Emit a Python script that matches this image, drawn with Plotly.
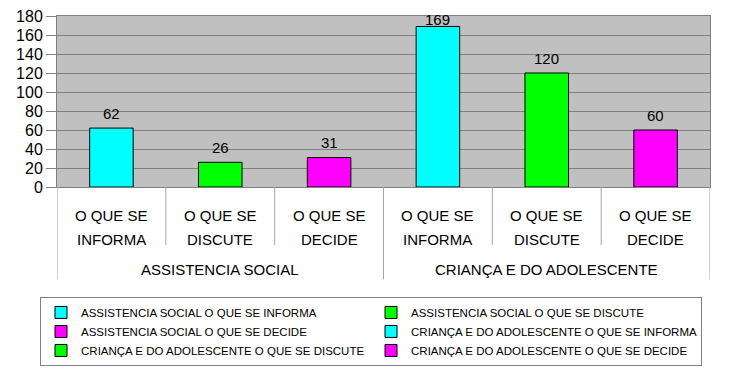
import plotly.graph_objects as go

groups = ["ASSISTENCIA SOCIAL", "CRIANÇA E DO ADOLESCENTE"]
subcats_line1 = ["O QUE SE", "O QUE SE", "O QUE SE", "O QUE SE", "O QUE SE", "O QUE SE"]
subcats_line2 = ["INFORMA", "DISCUTE", "DECIDE", "INFORMA", "DISCUTE", "DECIDE"]
series_names = [
    "ASSISTENCIA SOCIAL O QUE SE INFORMA",
    "ASSISTENCIA SOCIAL O QUE SE DISCUTE",
    "ASSISTENCIA SOCIAL O QUE SE DECIDE",
    "CRIANÇA E DO ADOLESCENTE O QUE SE INFORMA",
    "CRIANÇA E DO ADOLESCENTE O QUE SE DISCUTE",
    "CRIANÇA E DO ADOLESCENTE O QUE SE DECIDE",
]
values = [62, 26, 31, 169, 120, 60]
colors = ["#00FFFF", "#00FF00", "#FF00FF", "#00FFFF", "#00FF00", "#FF00FF"]
y_ticks = [0, 20, 40, 60, 80, 100, 120, 140, 160, 180]

FONT = "Arial, Liberation Sans, sans-serif"
Y_MAX = 180
PLOT_H = 171          # plot area height in px
LABEL_GAP = 15        # px between bar top and label centre

fig = go.Figure()
for i, (name, v, c) in enumerate(zip(series_names, values, colors)):
    fig.add_trace(go.Bar(
        x=[i], y=[v], name=name, width=0.4,
        marker=dict(color=c, line=dict(color="black", width=1)),
    ))

n = len(values)
shapes = []
for k in range(n + 1):
    outer = k % 3 == 0
    shapes.append(dict(type="line", xref="x", yref="paper", x0=k - 0.5, x1=k - 0.5,
                       y0=0, y1=-0.54 if outer else -0.339,
                       line=dict(color="#a6a6a6", width=1)))

annotations = []
# data labels, kept inside the chart like the original (clamped near the plot top)
px_units = Y_MAX / PLOT_H
for i, v in enumerate(values):
    annotations.append(dict(x=i, y=min(v, Y_MAX - (LABEL_GAP + 3) * px_units), xref="x", yref="y",
                            text=str(v), yanchor="middle", yshift=LABEL_GAP,
                            showarrow=False, font=dict(size=15, family=FONT, color="black")))
for i in range(n):
    annotations.append(dict(x=i, y=-0.165, xref="x", yref="paper", text=subcats_line1[i],
                            yanchor="middle", showarrow=False,
                            font=dict(size=15, family=FONT, color="black")))
    annotations.append(dict(x=i, y=-0.305, xref="x", yref="paper", text=subcats_line2[i],
                            yanchor="middle", showarrow=False,
                            font=dict(size=15, family=FONT, color="black")))
for g, name in enumerate(groups):
    annotations.append(dict(x=g * 3 + 1, y=-0.485, xref="x", yref="paper", text=name,
                            yanchor="middle", showarrow=False,
                            font=dict(size=15, family=FONT, color="black")))

fig.update_layout(
    width=742, height=366,
    margin=dict(l=49, r=40, t=8, b=187, autoexpand=False),
    paper_bgcolor="white", plot_bgcolor="#C0C0C0",
    barmode="overlay",
    font=dict(family=FONT, color="black"),
    showlegend=True,
    legend=dict(orientation="h", x=-0.026, y=-0.643, xanchor="left", yanchor="top",
                bordercolor="#808080", borderwidth=1, bgcolor="white",
                entrywidth=285, entrywidthmode="pixels",
                font=dict(size=11.5, family=FONT, color="black")),
    xaxis=dict(range=[-0.5, n - 0.5], showticklabels=False, showgrid=False, zeroline=False,
               showline=True, linecolor="#808080", mirror=True, ticks=""),
    yaxis=dict(range=[0, Y_MAX], tickvals=y_ticks, showgrid=True, gridcolor="#808080",
               gridwidth=1, zeroline=False, showline=True, linecolor="#808080", mirror=True,
               ticks="outside", ticklen=10, tickcolor="#808080", ticklabeloverflow="allow",
               tickfont=dict(size=16, family=FONT, color="black")),
    shapes=shapes, annotations=annotations,
)

fig.write_html("out.html")
